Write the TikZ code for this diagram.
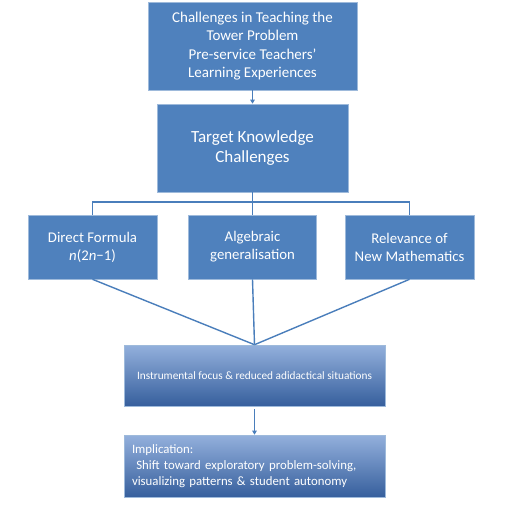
\documentclass[tikz,border=0pt]{standalone}
\usepackage{fontspec}
\setmainfont{Carlito}
\usetikzlibrary{arrows.meta,shadows}
\definecolor{ofcBlue}{HTML}{4F81BD}
\definecolor{ofcLine}{HTML}{4A7EBB}
\definecolor{gradTop}{HTML}{93B0DC}
\definecolor{gradBot}{HTML}{365F9D}
\tikzset{
  topbox/.style={draw=ofcBlue!55!white, fill=ofcBlue, line width=0.6pt,
        text=white, align=center, inner sep=0pt},
  gradbox/.style={draw=ofcBlue!55!white, top color=gradTop, bottom color=gradBot,
        line width=0.6pt, text=white, inner sep=0pt,
        drop shadow={opacity=0.35, shadow xshift=1.2pt, shadow yshift=-1.2pt}},
  link/.style={draw=ofcLine, line width=1.4pt},
  arr/.style={-{Triangle[length=4pt, width=4.5pt]}, draw=ofcLine, line width=1.2pt}
}

\begin{document}
\begin{tikzpicture}[x=1pt, y=-1pt]
\useasboundingbox (0,0) rectangle (526,504);
\node[topbox, minimum width=209pt, minimum height=88pt,
      font=\fontsize{15}{18.5}\selectfont] (ch) at (252.5,46)
      {Challenges in Teaching the\\Tower Problem\\Pre-service Teachers’\\Learning Experiences};
\node[topbox, minimum width=191pt, minimum height=88pt,
      font=\fontsize{17}{20}\selectfont] (tk) at (252.5,148)
      {Target Knowledge\\Challenges};

\node[topbox, minimum width=129pt, minimum height=64pt,
      font=\fontsize{14.8}{18}\selectfont] (df) at (92.5,247)
      {Direct Formula\\\textit{n}(2\textit{n}−1)};
\node[topbox, minimum width=128pt, minimum height=64pt,
      font=\fontsize{14.8}{18}\selectfont] (ag) at (252.5,247)
      {Algebraic\\generalisation};
\node[topbox, minimum width=129pt, minimum height=64pt,
      font=\fontsize{14.8}{18}\selectfont] (rn) at (409.5,247)
      {Relevance of\\New Mathematics};

\node[gradbox, minimum width=261pt, minimum height=61pt,
      font=\fontsize{11.3}{13}\selectfont] (inst) at (254.5,375.5)
      {Instrumental focus \& reduced adidactical situations};
\node[gradbox, minimum width=261pt, minimum height=62pt, align=left,
      text width=245pt, font=\fontsize{12.8}{16}\selectfont] (impl) at (254.5,466)
      {Implication:\\\ Shift toward exploratory problem-solving,\\visualizing patterns \& student autonomy};

\coordinate (fork) at (252.5,202);
\draw[arr] (ch.south) -- (tk.north);
\draw[link] (tk.south) -- (ag.north);
\draw[link] (df.north) |- (fork) -| (rn.north);
\draw[link] (df.south) -- (inst.north);
\draw[link] (ag.south) -- (inst.north);
\draw[link] (rn.south) -- (inst.north);
\draw[arr, shorten <=3pt] (inst.south) -- (impl.north);
\end{tikzpicture}
\end{document}
